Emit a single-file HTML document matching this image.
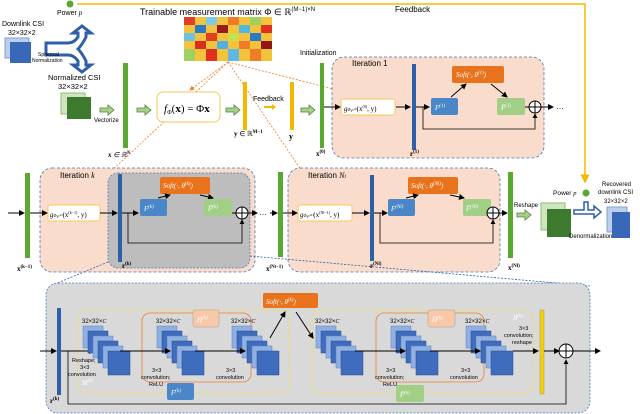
<!DOCTYPE html>
<html><head><meta charset="utf-8"><style>
body{margin:0;background:#fff}
svg{display:block;font-family:"Liberation Sans",sans-serif}
.m{font-family:"Liberation Serif",serif;font-style:italic}
</style></head><body>
<svg width="640" height="414" viewBox="0 0 640 414" xmlns="http://www.w3.org/2000/svg">
<defs>
<marker id="a" markerWidth="6" markerHeight="6" refX="5" refY="3" orient="auto"><path d="M0,0L6,3L0,6z" fill="#000"/></marker>
<marker id="o" markerWidth="6" markerHeight="6" refX="5" refY="3" orient="auto"><path d="M0,0L6,3L0,6z" fill="#f07c2a"/></marker>
<marker id="y" markerWidth="6" markerHeight="6" refX="5" refY="3" orient="auto"><path d="M0,0L6,3L0,6z" fill="#f5b800"/></marker>
<g id="st">
<rect x="0" y="0" width="20" height="22" fill="#8fb0e0" stroke="#5a7fc0" stroke-width="0.5"/>
<rect x="5" y="5" width="20" height="22" fill="#3f6cbc" stroke="#2a4f90" stroke-width="0.5"/>
<rect x="10" y="10" width="20" height="22" fill="#8fb0e0" stroke="#5a7fc0" stroke-width="0.5"/>
<rect x="15" y="15" width="20" height="22" fill="#3f6cbc" stroke="#2a4f90" stroke-width="0.5"/>
<rect x="20" y="20" width="20" height="22" fill="#8fb0e0" stroke="#5a7fc0" stroke-width="0.5"/>
<rect x="25" y="25" width="22" height="24" fill="#3f6cbc" stroke="#2a4f90" stroke-width="0.5"/>
</g>
<path id="ga" d="M0,0h8v-3l6,5l-6,5v-3h-8z" fill="#a8d08d" stroke="#548235" stroke-width="0.8"/>
</defs>

<!-- top yellow feedback -->
<circle cx="70" cy="4" r="3.5" fill="#5aa832"/>
<text x="57" y="15" font-size="7">Power <tspan class="m">p</tspan></text>
<polyline points="77,4 585,4 585,182" fill="none" stroke="#f5b800" stroke-width="1.5" marker-end="url(#y)"/>
<text x="140" y="15" font-size="9">Trainable measurement matrix Φ ∈ ℝ<tspan font-size="6" dy="-4">(M−1)×N</tspan></text>
<text x="395" y="12" font-size="8">Feedback</text>

<!-- matrix -->
<g>
<rect x="184" y="17" width="88" height="44" fill="#f3c33c"/>
<rect x="184" y="17" width="11" height="8" fill="#e0402a"/><rect x="206" y="17" width="11" height="8" fill="#7fc8e8"/><rect x="228" y="17" width="11" height="8" fill="#f07c2a"/><rect x="250" y="17" width="11" height="8" fill="#a0d060"/>
<rect x="195" y="25" width="11" height="8" fill="#2a78c8"/><rect x="217" y="25" width="11" height="8" fill="#9a1a1a"/><rect x="239" y="25" width="11" height="8" fill="#50b8e0"/><rect x="261" y="25" width="11" height="8" fill="#e03020"/>
<rect x="184" y="33" width="11" height="8" fill="#70c0e0"/><rect x="206" y="33" width="11" height="8" fill="#e04020"/><rect x="228" y="33" width="11" height="8" fill="#c8e050"/><rect x="250" y="33" width="11" height="8" fill="#2a78c8"/>
<rect x="195" y="41" width="11" height="8" fill="#d83020"/><rect x="217" y="41" width="11" height="8" fill="#50b0e0"/><rect x="239" y="41" width="11" height="8" fill="#f07c2a"/><rect x="261" y="41" width="11" height="8" fill="#901818"/>
<rect x="184" y="49" width="11" height="12" fill="#a0d060"/><rect x="206" y="49" width="11" height="12" fill="#e03020"/><rect x="228" y="49" width="11" height="12" fill="#60b8e0"/><rect x="250" y="49" width="11" height="12" fill="#f07c2a"/>
</g>
<g stroke="#f07c2a" stroke-width="0.8" stroke-dasharray="2,1.5" fill="none">
<line x1="228" y1="62" x2="190" y2="90" marker-end="url(#o)"/>
<line x1="228" y1="62" x2="368" y2="98" marker-end="url(#o)"/>
<line x1="228" y1="62" x2="75" y2="205" marker-end="url(#o)"/>
<line x1="228" y1="62" x2="325" y2="205" marker-end="url(#o)"/>
</g>

<!-- downlink CSI -->
<text x="2" y="26" font-size="7">Downlink CSI</text>
<text x="8" y="35" font-size="7">32×32×2</text>
<rect x="5" y="38" width="24" height="20" fill="#bcd0ee" stroke="#7f9fd0"/>
<rect x="10" y="42" width="21" height="21" fill="#3a68b8"/>
<path d="M46,43h22q6,0 10,-6v-4h-5l9,-7l9,7h-5v4q-4,8 -8,12q4,4 8,12v4h5l-9,7l-9,-7h5v-4q-4,-6 -10,-6h-22z" fill="#fff" stroke="#2f5fa8" stroke-width="3"/>
<text x="38" y="56" font-size="5">Spherical</text>
<text x="32" y="62" font-size="5">Normalization</text>
<text x="48" y="80" font-size="7.5">Normalized CSI</text>
<text x="58" y="89" font-size="7.5">32×32×2</text>
<rect x="61" y="93" width="24" height="21" fill="#cfe4c0" stroke="#8fbf70"/>
<rect x="67" y="97" width="24" height="22" fill="#3d7a2e"/>
<use href="#ga" x="100" y="108"/>
<text x="94" y="122" font-size="6">Vectorize</text>
<rect x="123" y="63" width="5" height="85" fill="#5aa832"/>
<text x="108" y="157" font-size="7" class="m" font-style="normal" font-weight="bold">x <tspan font-weight="normal">∈ ℝ</tspan><tspan font-size="5" dy="-3">N</tspan></text>
<use href="#ga" x="137" y="108"/>
<rect x="157" y="92" width="63" height="30" rx="6" fill="#fff" stroke="#f5c95c"/>
<text x="164" y="112" font-size="11" class="m">f<tspan font-size="6" dy="2">Φ</tspan><tspan dy="-2" font-style="normal">(<tspan font-weight="bold">x</tspan>) = Φ<tspan font-weight="bold">x</tspan></tspan></text>
<use href="#ga" x="226" y="108"/>
<rect x="243" y="82" width="4" height="48" fill="#f5b800"/>
<text x="234" y="136" font-size="7" font-weight="bold" font-family="Liberation Serif">y <tspan font-weight="normal">∈ ℝ</tspan><tspan font-size="5" dy="-3">M−1</tspan></text>
<text x="253" y="101" font-size="7">Feedback</text>
<path d="M264,106h8v-2l4,3l-4,3v-2h-8z" fill="#f5b800"/>
<rect x="290" y="82" width="4" height="48" fill="#f5b800"/>
<text x="289" y="139" font-size="8" font-weight="bold" font-family="Liberation Serif">y</text>
<use href="#ga" x="301" y="108"/>
<text x="300" y="55" font-size="7">Initialization</text>
<rect x="320" y="63" width="4" height="85" fill="#5aa832"/>
<text x="316" y="156" font-size="7" font-weight="bold" font-family="Liberation Serif">x<tspan font-size="5" dy="-3">(0)</tspan></text>

<!-- iteration 1 -->
<rect x="332" y="57" width="212" height="101" rx="12" fill="#f9dccb" stroke="#4a7ab8" stroke-dasharray="3,2" stroke-width="0.8"/>
<text x="352" y="66" font-size="8">Iteration 1</text>
<line x1="324" y1="107" x2="340" y2="107" stroke="#000" marker-end="url(#a)"/>
<rect x="341" y="99" width="54" height="16" rx="2" fill="#fff" stroke="#f5c95c"/>
<text x="344" y="111" font-size="7" class="m">g<tspan font-size="4">Φ,ρ⁽¹⁾</tspan><tspan font-style="normal">(x<tspan font-size="4" dy="-3">(0)</tspan><tspan dy="3">, y)</tspan></tspan></text>
<line x1="396" y1="107" x2="410" y2="107" stroke="#000" marker-end="url(#a)"/>
<rect x="412" y="64" width="4" height="86" fill="#2f5fa8"/>
<text x="410" y="156" font-size="7" font-weight="bold" font-family="Liberation Serif">r<tspan font-size="5" dy="-3">(1)</tspan></text>
<line x1="416" y1="107" x2="429" y2="107" stroke="#000" marker-end="url(#a)"/>
<polyline points="423,107 423,129 535,129 535,114" fill="none" stroke="#000" stroke-width="0.8" marker-end="url(#a)"/>
<rect x="431" y="98" width="27" height="17" rx="2" fill="#4a86c8"/>
<text x="435" y="110" font-size="7" fill="#fff" class="m">F<tspan font-size="5" dy="-3">(1)</tspan></text>
<rect x="452" y="66" width="52" height="17" rx="2" fill="#e8731c"/>
<text x="456" y="77" font-size="7" fill="#fff" class="m">Soft(·, θ<tspan font-size="5" dy="-3">(1)</tspan><tspan dy="3">)</tspan></text>
<line x1="451" y1="97" x2="466" y2="84" stroke="#000" marker-end="url(#a)"/>
<line x1="491" y1="84" x2="507" y2="97" stroke="#000" marker-end="url(#a)"/>
<rect x="497" y="98" width="28" height="17" rx="2" fill="#a0cf85"/>
<text x="501" y="110" font-size="7" fill="#fff" class="m">F̃<tspan font-size="5" dy="-3">(1)</tspan></text>
<circle cx="535" cy="107" r="6" fill="#fff" stroke="#000"/><path d="M529,107h12M535,101v12" stroke="#000"/>
<line x1="525" y1="107" x2="529" y2="107" stroke="#000"/>
<line x1="541" y1="107" x2="553" y2="107" stroke="#000" marker-end="url(#a)"/>
<text x="556" y="109" font-size="8">…</text>

<!-- row 2 -->
<line x1="8" y1="213" x2="24" y2="213" stroke="#000" marker-end="url(#a)"/>
<rect x="25" y="173" width="5" height="85" fill="#5aa832"/>
<text x="17" y="271" font-size="7" font-weight="bold" font-family="Liberation Serif">x<tspan font-size="5" dy="-3">(k−1)</tspan></text>
<rect x="40" y="168" width="215" height="104" rx="12" fill="#f9dccb" stroke="#4a7ab8" stroke-dasharray="3,2" stroke-width="0.8"/>
<text x="60" y="178" font-size="8">Iteration <tspan class="m">k</tspan></text>
<rect x="108" y="173" width="142" height="95" rx="10" fill="#bdbdbd" stroke="#4a7ab8" stroke-dasharray="2,1.5" stroke-width="0.8"/>
<line x1="30" y1="213" x2="47" y2="213" stroke="#000" marker-end="url(#a)"/>
<rect x="48" y="205" width="52" height="16" rx="2" fill="#fff" stroke="#f5c95c"/>
<text x="50" y="217" font-size="7" class="m">g<tspan font-size="4">Φ,ρ⁽ᵏ⁾</tspan><tspan font-style="normal">(x<tspan font-size="4" dy="-3">(k−1)</tspan><tspan dy="3">, y)</tspan></tspan></text>
<line x1="100" y1="213" x2="117" y2="213" stroke="#000" marker-end="url(#a)"/>
<rect x="118" y="174" width="4" height="88" fill="#2f5fa8"/>
<text x="122" y="268" font-size="7" font-weight="bold" font-family="Liberation Serif">r<tspan font-size="5" dy="-3">(k)</tspan></text>
<line x1="122" y1="213" x2="138" y2="213" stroke="#000" marker-end="url(#a)"/>
<polyline points="128,213 128,243 242,243 242,220" fill="none" stroke="#000" stroke-width="0.8" marker-end="url(#a)"/>
<rect x="140" y="199" width="27" height="17" rx="2" fill="#4a86c8"/>
<text x="144" y="211" font-size="7" fill="#fff" class="m">F<tspan font-size="5" dy="-3">(k)</tspan></text>
<rect x="160" y="177" width="50" height="17" rx="2" fill="#e8731c"/>
<text x="163" y="188" font-size="7" fill="#fff" class="m">Soft(·, θ<tspan font-size="5" dy="-3">(k)</tspan><tspan dy="3">)</tspan></text>
<line x1="158" y1="198" x2="170" y2="195" stroke="#000" marker-end="url(#a)"/>
<line x1="200" y1="195" x2="213" y2="198" stroke="#000" marker-end="url(#a)"/>
<rect x="204" y="199" width="28" height="17" rx="2" fill="#a0cf85"/>
<text x="208" y="211" font-size="7" fill="#fff" class="m">F̃<tspan font-size="5" dy="-3">(k)</tspan></text>
<circle cx="242" cy="213" r="6" fill="#fff" stroke="#000"/><path d="M236,213h12M242,207v12" stroke="#000"/>
<line x1="232" y1="213" x2="236" y2="213" stroke="#000"/>
<line x1="248" y1="213" x2="257" y2="213" stroke="#000" marker-end="url(#a)"/>
<text x="259" y="215" font-size="8">…</text>
<line x1="270" y1="213" x2="277" y2="213" stroke="#000" marker-end="url(#a)"/>
<rect x="278" y="172" width="5" height="85" fill="#5aa832"/>
<text x="266" y="271" font-size="7" font-weight="bold" font-family="Liberation Serif">x<tspan font-size="5" dy="-3">(N<tspan font-size="4">l</tspan>−1)</tspan></text>

<rect x="288" y="168" width="212" height="104" rx="12" fill="#f9dccb" stroke="#4a7ab8" stroke-dasharray="3,2" stroke-width="0.8"/>
<text x="308" y="178" font-size="8">Iteration <tspan class="m">N<tspan font-size="5">l</tspan></tspan></text>
<line x1="283" y1="213" x2="297" y2="213" stroke="#000" marker-end="url(#a)"/>
<rect x="298" y="205" width="54" height="16" rx="2" fill="#fff" stroke="#f5c95c"/>
<text x="300" y="217" font-size="7" class="m">g<tspan font-size="4">Φ,ρ⁽ᴺ⁾</tspan><tspan font-style="normal">(x<tspan font-size="4" dy="-3">(Nl−1)</tspan><tspan dy="3">, y)</tspan></tspan></text>
<line x1="352" y1="213" x2="369" y2="213" stroke="#000" marker-end="url(#a)"/>
<rect x="370" y="175" width="4" height="86" fill="#2f5fa8"/>
<text x="370" y="268" font-size="7" font-weight="bold" font-family="Liberation Serif">r<tspan font-size="5" dy="-3">(Nl)</tspan></text>
<line x1="374" y1="213" x2="387" y2="213" stroke="#000" marker-end="url(#a)"/>
<polyline points="380,213 380,243 493,243 493,220" fill="none" stroke="#000" stroke-width="0.8" marker-end="url(#a)"/>
<rect x="388" y="199" width="27" height="17" rx="2" fill="#4a86c8"/>
<text x="391" y="211" font-size="7" fill="#fff" class="m">F<tspan font-size="5" dy="-3">(Nl)</tspan></text>
<rect x="408" y="177" width="50" height="17" rx="2" fill="#e8731c"/>
<text x="411" y="188" font-size="7" fill="#fff" class="m">Soft(·, θ<tspan font-size="5" dy="-3">(Nl)</tspan><tspan dy="3">)</tspan></text>
<line x1="406" y1="198" x2="418" y2="195" stroke="#000" marker-end="url(#a)"/>
<line x1="450" y1="195" x2="464" y2="198" stroke="#000" marker-end="url(#a)"/>
<rect x="463" y="199" width="28" height="17" rx="2" fill="#a0cf85"/>
<text x="466" y="211" font-size="7" fill="#fff" class="m">F̃<tspan font-size="5" dy="-3">(Nl)</tspan></text>
<circle cx="493" cy="213" r="6" fill="#fff" stroke="#000"/><path d="M487,213h12M493,207v12" stroke="#000"/>
<line x1="499" y1="213" x2="507" y2="213" stroke="#000" marker-end="url(#a)"/>
<rect x="508" y="172" width="5" height="86" fill="#5aa832"/>
<text x="508" y="270" font-size="7" font-weight="bold" font-family="Liberation Serif">x<tspan font-size="5" dy="-3">(Nl)</tspan></text>
<text x="514" y="207" font-size="6">Reshape</text>
<use href="#ga" x="517" y="213"/>
<rect x="541" y="203" width="24" height="27" fill="#cfe4c0" stroke="#8fbf70"/>
<rect x="547" y="209" width="24" height="28" fill="#3d7a2e"/>
<text x="553" y="195" font-size="6.5">Power <tspan class="m">p</tspan></text>
<circle cx="586" cy="193" r="3.5" fill="#5aa832"/>
<path d="M584,202h4v8h6v-4l7,6l-7,6v-4h-20v-4h10z" fill="#fff" stroke="#2f5fa8" stroke-width="1.5"/>
<text x="569" y="238" font-size="6">Denormalization</text>
<text x="602" y="186" font-size="6">Recovered</text>
<text x="598" y="194" font-size="6">downlink CSI</text>
<text x="604" y="203" font-size="6">32×32×2</text>
<rect x="607" y="207" width="20" height="25" fill="#bcd0ee" stroke="#7f9fd0"/>
<rect x="612" y="212" width="18" height="26" fill="#3a68b8"/>

<!-- connector dashed lines -->
<line x1="108" y1="262" x2="55" y2="284" stroke="#2f5fa8" stroke-dasharray="2,1.5" stroke-width="0.8"/>
<line x1="250" y1="256" x2="590" y2="286" stroke="#2f5fa8" stroke-dasharray="2,1.5" stroke-width="0.8"/>

<!-- bottom detail -->
<rect x="46" y="283" width="544" height="130" rx="12" fill="#d9d9d9" stroke="#4a7ab8" stroke-dasharray="2,1.5" stroke-width="0.8"/>
<rect x="78" y="310" width="211" height="83" rx="8" fill="none" stroke="#f0e050" stroke-dasharray="2,1.5"/>
<rect x="142" y="313" width="109" height="69" rx="8" fill="none" stroke="#f07c2a" stroke-width="0.8"/>
<rect x="312" y="310" width="221" height="83" rx="8" fill="none" stroke="#f0e050" stroke-dasharray="2,1.5"/>
<rect x="376" y="313" width="108" height="69" rx="8" fill="none" stroke="#f07c2a" stroke-width="0.8"/>
<rect x="57" y="308" width="4" height="87" fill="#2f5fa8"/>
<text x="50" y="403" font-size="7" font-weight="bold" font-family="Liberation Serif">r<tspan font-size="5" dy="-3">(k)</tspan></text>
<line x1="40" y1="351" x2="56" y2="351" stroke="#000" marker-end="url(#a)"/>
<line x1="61" y1="351" x2="94" y2="351" stroke="#000" marker-end="url(#a)"/>
<polyline points="68,351 68,404 566,404 566,360" fill="none" stroke="#000" stroke-width="0.8" marker-end="url(#a)"/>
<text x="82" y="323" font-size="6">32×32×<tspan class="m">C</tspan></text>
<text x="156" y="323" font-size="6">32×32×<tspan class="m">C</tspan></text>
<text x="231" y="323" font-size="6">32×32×<tspan class="m">C</tspan></text>
<text x="315" y="323" font-size="6">32×32×<tspan class="m">C</tspan></text>
<text x="390" y="323" font-size="6">32×32×<tspan class="m">C</tspan></text>
<text x="465" y="323" font-size="6">32×32×<tspan class="m">C</tspan></text>
<use href="#st" x="83" y="326"/>
<use href="#st" x="157" y="326"/>
<use href="#st" x="232" y="326"/>
<use href="#st" x="316" y="326"/>
<use href="#st" x="391" y="326"/>
<use href="#st" x="466" y="326"/>
<line x1="120" y1="351" x2="170" y2="351" stroke="#000" marker-end="url(#a)"/>
<line x1="195" y1="351" x2="245" y2="351" stroke="#000" marker-end="url(#a)"/>
<line x1="355" y1="351" x2="405" y2="351" stroke="#000" marker-end="url(#a)"/>
<line x1="430" y1="351" x2="480" y2="351" stroke="#000" marker-end="url(#a)"/>
<line x1="513" y1="351" x2="538" y2="351" stroke="#000" marker-end="url(#a)"/>
<line x1="270" y1="338" x2="285" y2="312" stroke="#000" marker-end="url(#a)"/>
<line x1="296" y1="312" x2="313" y2="338" stroke="#000" marker-end="url(#a)"/>
<rect x="263" y="293" width="55" height="15" rx="2" fill="#e8731c"/>
<text x="266" y="304" font-size="7" fill="#fff" class="m">Soft(·, θ<tspan font-size="5" dy="-3">(k)</tspan><tspan dy="3">)</tspan></text>
<rect x="193" y="310" width="26" height="17" rx="2" fill="#f8c9a8" stroke="#a0a0a0" stroke-width="0.5"/>
<text x="197" y="322" font-size="7" fill="#fff" class="m">H<tspan font-size="5" dy="-3">(k)</tspan></text>
<rect x="428" y="310" width="27" height="17" rx="2" fill="#f8c9a8" stroke="#a0a0a0" stroke-width="0.5"/>
<text x="432" y="322" font-size="7" fill="#fff" class="m">H̃<tspan font-size="5" dy="-3">(k)</tspan></text>
<rect x="167" y="383" width="27" height="17" rx="2" fill="#4a86c8"/>
<text x="171" y="395" font-size="7" fill="#fff" class="m">F<tspan font-size="5" dy="-3">(k)</tspan></text>
<rect x="396" y="385" width="28" height="17" rx="2" fill="#a0cf85"/>
<text x="400" y="397" font-size="7" fill="#fff" class="m">F̃<tspan font-size="5" dy="-3">(k)</tspan></text>
<text x="72" y="362" font-size="5.5">Reshape;</text>
<text x="80" y="369" font-size="5.5">3×3</text>
<text x="68" y="376" font-size="5.5">convolution</text>
<text x="82" y="385" font-size="7" fill="#fff" class="m">M<tspan font-size="5" dy="-3">(k)</tspan></text>
<text x="152" y="372" font-size="5.5">3×3</text>
<text x="141" y="379" font-size="5.5">convolution;</text>
<text x="149" y="386" font-size="5.5">ReLU</text>
<text x="226" y="372" font-size="5.5">3×3</text>
<text x="216" y="379" font-size="5.5">convolution</text>
<text x="386" y="372" font-size="5.5">3×3</text>
<text x="375" y="379" font-size="5.5">convolution;</text>
<text x="383" y="386" font-size="5.5">ReLU</text>
<text x="461" y="372" font-size="5.5">3×3</text>
<text x="450" y="379" font-size="5.5">convolution</text>
<text x="513" y="320" font-size="7" fill="#fff" class="m">B<tspan font-size="5" dy="-3">(k)</tspan></text>
<text x="519" y="330" font-size="5.5">3×3</text>
<text x="504" y="337" font-size="5.5">convolution;</text>
<text x="512" y="344" font-size="5.5">reshape</text>
<rect x="540" y="310" width="4" height="84" fill="#f5d000" stroke="#888" stroke-width="0.4"/>
<line x1="544" y1="351" x2="559" y2="351" stroke="#000" marker-end="url(#a)"/>
<circle cx="566" cy="351" r="7" fill="#fff" stroke="#000"/><path d="M559,351h14M566,344v14" stroke="#000"/>
<line x1="573" y1="351" x2="600" y2="351" stroke="#000" marker-end="url(#a)"/>
</svg>
</body></html>
